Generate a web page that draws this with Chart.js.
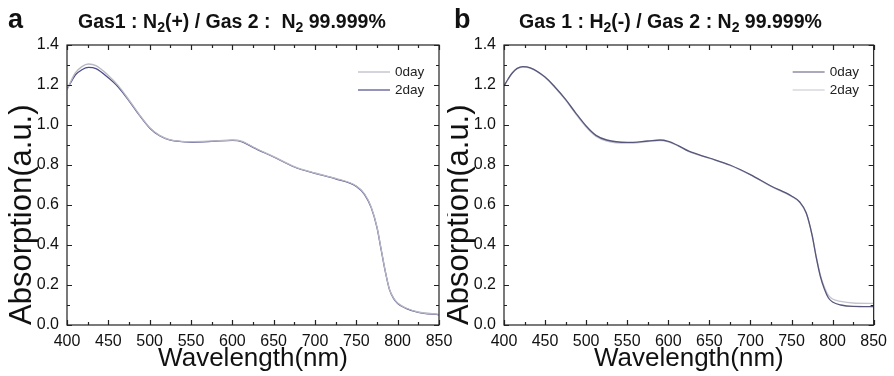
<!DOCTYPE html>
<html>
<head>
<meta charset="utf-8">
<script src="https://cdn.jsdelivr.net/npm/chart.js@4.4.1/dist/chart.umd.min.js"></script>
<style>
body { margin:0; background:#fff; width:894px; height:376px; overflow:hidden; position:relative; font-family:"Liberation Sans", Arial, sans-serif; color:#111; }
.panel { position:absolute; top:0; height:376px; }
#panelA { left:0; width:462px; }
#panelB { left:447px; width:447px; }
.letter { position:absolute; font-weight:bold; font-size:27px; line-height:27px; }
.title { position:absolute; font-weight:bold; font-size:19.5px; line-height:19px; white-space:pre; }
sub { font-size:72%; vertical-align:-0.3em; line-height:0; }
</style>
</head>
<body>
<div class="panel" id="panelA"><canvas id="chartA"></canvas></div>
<div class="panel" id="panelB"><canvas id="chartB"></canvas></div>
<div class="letter" style="left:8px;top:6px">a</div>
<div class="title" style="left:78px;top:12px">Gas1 : N<sub>2</sub>(+) / Gas 2 :  N<sub>2</sub> 99.999%</div>
<div class="letter" style="left:454px;top:6px">b</div>
<div class="title" style="left:519px;top:12px">Gas 1 : H<sub>2</sub>(-) / Gas 2 : N<sub>2</sub> 99.999%</div>
<script>
// wavelengths (nm)
var wlA = [400, 405, 410, 418, 426, 435, 450, 462, 475, 487, 500, 512, 525, 550, 575, 600, 612, 625, 650, 675, 700, 725, 750, 760, 768, 775, 780, 785, 790, 795, 800, 810, 825, 850];
var a0day = [1.175, 1.222, 1.26, 1.292, 1.305, 1.297, 1.248, 1.197, 1.125, 1.055, 0.987, 0.948, 0.926, 0.917, 0.92, 0.925, 0.918, 0.89, 0.842, 0.792, 0.76, 0.733, 0.695, 0.655, 0.59, 0.49, 0.38, 0.27, 0.18, 0.135, 0.11, 0.085, 0.065, 0.053];
var a2day = [1.18, 1.215, 1.25, 1.276, 1.288, 1.282, 1.236, 1.19, 1.121, 1.052, 0.985, 0.946, 0.924, 0.915, 0.918, 0.923, 0.916, 0.888, 0.84, 0.79, 0.758, 0.731, 0.693, 0.652, 0.587, 0.487, 0.377, 0.268, 0.178, 0.133, 0.108, 0.083, 0.063, 0.051];

var wlB = [400, 405, 410, 416, 423, 432, 450, 462, 475, 487, 500, 512, 525, 550, 575, 590, 600, 612, 625, 650, 675, 700, 725, 750, 760, 768, 775, 780, 785, 790, 795, 800, 810, 825, 850];
var b0day = [1.195, 1.23, 1.26, 1.283, 1.292, 1.286, 1.24, 1.19, 1.128, 1.062, 0.995, 0.948, 0.925, 0.913, 0.92, 0.925, 0.918, 0.897, 0.869, 0.835, 0.8, 0.752, 0.695, 0.645, 0.615, 0.56, 0.45, 0.34, 0.245, 0.18, 0.135, 0.115, 0.1, 0.093, 0.092];
var b2day = [1.195, 1.228, 1.258, 1.281, 1.29, 1.284, 1.237, 1.187, 1.124, 1.057, 0.99, 0.943, 0.92, 0.909, 0.917, 0.922, 0.916, 0.895, 0.867, 0.833, 0.798, 0.75, 0.693, 0.643, 0.613, 0.558, 0.452, 0.345, 0.252, 0.19, 0.148, 0.13, 0.118, 0.11, 0.108];

var seriesLabels = ['0day', '2day'];
var FONT = "'Liberation Sans', Arial, sans-serif";

// frame with inward ticks on all four sides + small legend in the top right
const boxTicks = {
    id: 'boxTicks',
    afterDatasetsDraw(chart) {
        const {ctx, chartArea: a, scales: {x, y}} = chart;
        ctx.save();
        ctx.strokeStyle = '#222';
        ctx.lineWidth = 1.2;
        ctx.strokeRect(a.left, a.top, a.right - a.left, a.bottom - a.top);
        ctx.beginPath();
        for (let v = x.min; v <= x.max + 0.01; v += 25) {
            const px = Math.round(x.getPixelForValue(v)) + 0.5;
            const len = (v - x.min) % 50 ? 3 : 5;
            ctx.moveTo(px, a.bottom); ctx.lineTo(px, a.bottom - len);
            ctx.moveTo(px, a.top); ctx.lineTo(px, a.top + len);
        }
        for (let k = 0; k <= 14; k++) {
            const py = Math.round(y.getPixelForValue(k / 10)) + 0.5;
            const len = k % 2 ? 3 : 5;
            ctx.moveTo(a.left, py); ctx.lineTo(a.left + len, py);
            ctx.moveTo(a.right, py); ctx.lineTo(a.right - len, py);
        }
        ctx.stroke();

        // legend
        ctx.font = '13.5px ' + FONT;
        ctx.textBaseline = 'middle';
        ctx.fillStyle = '#222';
        chart.data.datasets.forEach(function (ds, i) {
            const ly = a.top + 27 + i * 18;
            ctx.strokeStyle = ds.borderColor;
            ctx.lineWidth = 1.2;
            ctx.beginPath();
            ctx.moveTo(a.right - 81, ly); ctx.lineTo(a.right - 49, ly);
            ctx.stroke();
            ctx.fillText(ds.label, a.right - 44, ly);
        });
        ctx.restore();
    }
};

function makeChart(id, wl, s0, s1, colors, yWidth, padRight, yTitlePad) {
    const toPts = arr => arr.map((v, i) => ({x: wl[i], y: v}));
    return new Chart(document.getElementById(id), {
        type: 'line',
        data: {
            datasets: [
                {label: seriesLabels[0], data: toPts(s0), borderColor: colors[0]},
                {label: seriesLabels[1], data: toPts(s1), borderColor: colors[1]}
            ]
        },
        options: {
            responsive: true,
            maintainAspectRatio: false,
            animation: false,
            devicePixelRatio: 1,
            layout: {padding: {top: 45, right: padRight, left: 0, bottom: 0}},
            elements: {
                point: {radius: 0},
                line: {borderWidth: 1.3, cubicInterpolationMode: 'monotone'}
            },
            plugins: {legend: {display: false}, tooltip: {enabled: false}},
            scales: {
                x: {
                    type: 'linear', min: 400, max: 850,
                    grid: {display: false, drawTicks: false, tickLength: 0}, border: {display: false},
                    ticks: {stepSize: 50, padding: 7, color: '#111', font: {family: FONT, size: 16}},
                    title: {display: true, text: 'Wavelength(nm)', color: '#111',
                        font: {family: FONT, size: 26, lineHeight: 1}, padding: {top: 0, bottom: 4}},
                    afterFit: s => { s.height = 51; }
                },
                y: {
                    min: 0, max: 1.4,
                    grid: {display: false, drawTicks: false, tickLength: 0}, border: {display: false},
                    ticks: {stepSize: 0.2, padding: 8, color: '#111', font: {family: FONT, size: 16},
                        callback: v => v.toFixed(1)},
                    title: {display: true, text: 'Absorption(a.u.)', color: '#111', align: 'start',
                        font: {family: FONT, size: 31, lineHeight: 1}, padding: {top: yTitlePad, bottom: 0}},
                    afterFit: s => { s.width = yWidth; }
                }
            }
        },
        plugins: [boxTicks]
    });
}

makeChart('chartA', wlA, a0day, a2day, ['#b8b8c4', '#4c4c8c'], 67, 23, 7);
makeChart('chartB', wlB, b0day, b2day, ['#56567a', '#c4c4d0'], 57, 19, -3);
</script>
</body>
</html>
